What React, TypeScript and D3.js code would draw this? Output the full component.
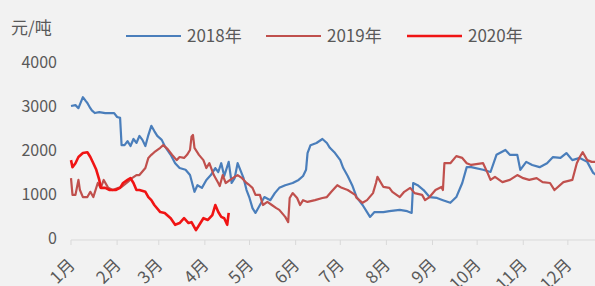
import React, { useEffect, useRef } from 'react';
import * as d3 from 'd3';

// day-of-year / price (元/吨) pairs
const days2018 = [0, 3, 5, 8, 10, 11, 13, 14, 16, 19, 23, 26, 29, 31, 33, 34, 36, 38, 40, 42, 44, 46, 48, 50, 52, 54, 56, 58, 61, 63, 67, 70, 73, 77, 80, 83, 85, 88, 91, 94, 97, 99, 101, 103, 106, 108, 110, 112, 116, 118, 120, 122, 124, 127, 130, 134, 137, 140, 144, 149, 153, 156, 158, 159, 161, 165, 169, 172, 174, 177, 181, 183, 186, 189, 192, 196, 199, 201, 204, 210, 214, 221, 226, 229, 230, 233, 237, 241, 246, 250, 255, 259, 263, 266, 269, 277, 282, 286, 292, 295, 300, 302, 306, 310, 315, 320, 324, 329, 333, 337, 342, 347, 351, 353];
const vals2018 = [3000, 3020, 2950, 3200, 3110, 3070, 2950, 2900, 2840, 2860, 2840, 2840, 2840, 2750, 2730, 2110, 2110, 2200, 2090, 2250, 2160, 2320, 2230, 2090, 2340, 2550, 2430, 2320, 2230, 2090, 1890, 1700, 1590, 1550, 1430, 1050, 1200, 1140, 1320, 1430, 1590, 1500, 1700, 1410, 1730, 1250, 1360, 1700, 1360, 1090, 910, 680, 570, 750, 930, 860, 1020, 1140, 1200, 1250, 1320, 1410, 1550, 1930, 2110, 2160, 2250, 2160, 2050, 1950, 1770, 1590, 1410, 1200, 930, 750, 590, 480, 590, 590, 610, 640, 610, 570, 1250, 1200, 1090, 930, 910, 860, 800, 930, 1250, 1610, 1610, 1550, 1500, 1890, 2000, 1890, 1890, 1550, 1730, 1660, 1610, 1700, 1840, 1820, 1930, 1770, 1820, 1730, 1480, 1430];

const days2019 = [0, 1, 3, 5, 6, 8, 11, 13, 15, 18, 20, 22, 25, 28, 32, 34, 38, 41, 44, 46, 50, 52, 54, 56, 60, 62, 65, 68, 71, 73, 76, 78, 80, 81, 82, 83, 86, 89, 91, 93, 96, 99, 100, 102, 104, 107, 110, 112, 115, 118, 120, 122, 124, 127, 129, 132, 135, 138, 140, 144, 146, 147, 149, 152, 154, 156, 159, 164, 169, 172, 175, 179, 182, 186, 191, 192, 196, 199, 203, 205, 206, 210, 214, 216, 221, 224, 228, 231, 236, 238, 241, 245, 249, 250, 251, 255, 259, 263, 266, 269, 277, 280, 282, 285, 290, 295, 300, 304, 308, 313, 317, 322, 325, 331, 337, 340, 342, 344, 347, 350, 353];
const vals2019 = [1360, 980, 980, 1320, 1090, 930, 930, 1050, 930, 1250, 1140, 1320, 1140, 1090, 1140, 1160, 1270, 1360, 1430, 1430, 1590, 1820, 1890, 1950, 2050, 2110, 2020, 1890, 1770, 1840, 1820, 1890, 2000, 2300, 2340, 2050, 1890, 1770, 1590, 1700, 1430, 1250, 1180, 1430, 1250, 1320, 1390, 1430, 1360, 1250, 1200, 1140, 980, 980, 750, 820, 750, 680, 640, 480, 360, 910, 1020, 910, 750, 860, 820, 860, 910, 930, 1050, 1200, 1140, 1090, 980, 910, 800, 860, 1020, 1250, 1390, 1160, 1140, 1050, 930, 1050, 1140, 1020, 980, 860, 930, 1090, 1160, 1090, 1700, 1700, 1860, 1820, 1700, 1660, 1700, 1480, 1320, 1390, 1270, 1320, 1430, 1360, 1320, 1360, 1270, 1250, 1090, 1270, 1320, 1700, 1840, 1950, 1770, 1730, 1730];

const days2020 = [0, 1, 3, 5, 8, 11, 13, 15, 17, 19, 20, 23, 26, 30, 33, 35, 38, 40, 42, 44, 46, 50, 52, 54, 56, 60, 63, 67, 70, 73, 76, 79, 81, 84, 87, 89, 92, 95, 97, 99, 101, 103, 105, 106];
const vals2020 = [1770, 1610, 1700, 1840, 1930, 1950, 1840, 1700, 1550, 1320, 1140, 1140, 1090, 1090, 1140, 1250, 1320, 1360, 1250, 1090, 1090, 1050, 930, 860, 750, 590, 570, 450, 300, 340, 450, 340, 360, 180, 340, 450, 410, 520, 750, 590, 480, 450, 300, 570];

const seriesNames = ['2018年', '2019年', '2020年'];
const seriesColors = ['#4a7ebb', '#c0504d', '#f01414'];
const monthLabels = ['1月', '2月', '3月', '4月', '5月', '6月', '7月', '8月', '9月', '10月', '11月', '12月'];
const monthStarts = [0, 31, 59, 90, 120, 151, 181, 212, 243, 273, 304, 334];
const yTicks = [0, 1000, 2000, 3000, 4000];

const W = 595, H = 286;
const FONT = '"Noto Sans CJK SC", "Noto Sans", sans-serif';
const TEXT = '#595959';

export default function App() {
  const ref = useRef<SVGSVGElement>(null);

  useEffect(() => {
    const svg = d3.select(ref.current);
    svg.selectAll('*').remove();

    const x = d3.scaleLinear().domain([0, 365]).range([71, 614]);
    const y = d3.scaleLinear().domain([0, 4000]).range([238, 62]);

    svg.append('rect').attr('width', W).attr('height', H).attr('fill', '#f2f2f2');

    // unit label
    svg.append('text')
      .attr('x', 11).attr('y', 34)
      .style('font-family', FONT).style('font-size', '17px')
      .attr('fill', TEXT)
      .text('元/吨');

    // y labels
    svg.selectAll('.ylab').data(yTicks).join('text')
      .attr('class', 'ylab')
      .attr('x', 57)
      .attr('y', d => y(d))
      .attr('dy', '0.35em')
      .attr('text-anchor', 'end')
      .style('font-family', FONT).style('font-size', '16px')
      .attr('fill', TEXT)
      .text(d => d);

    // x axis
    const xg = svg.append('g').attr('transform', `translate(0, ${y(0) + 2})`);
    xg.append('line').attr('x1', 71).attr('x2', W).attr('stroke', '#d9d9d9').attr('stroke-width', 1);
    xg.selectAll('.tick').data(monthStarts).join('line')
      .attr('class', 'tick')
      .attr('x1', d => x(d)).attr('x2', d => x(d))
      .attr('y1', 0).attr('y2', 5)
      .attr('stroke', '#d9d9d9');
    xg.selectAll('.xlab').data(monthStarts).join('text')
      .attr('class', 'xlab')
      .attr('text-anchor', 'end')
      .attr('transform', d => `translate(${x(d) + 5}, 26) rotate(-45)`)
      .style('font-family', FONT).style('font-size', '17px')
      .attr('fill', TEXT)
      .text((d, i) => monthLabels[i]);

    // lines
    const allDays = [days2018, days2019, days2020];
    const allVals = [vals2018, vals2019, vals2020];
    const line = d3.line<[number, number]>()
      .x(d => x(d[0]))
      .y(d => y(d[1]));

    allDays.forEach((days, k) => {
      const pts = days.map((d, i) => [d, allVals[k][i]] as [number, number]);
      svg.append('path')
        .datum(pts)
        .attr('d', line)
        .attr('fill', 'none')
        .attr('stroke', seriesColors[k])
        .attr('stroke-width', k === 2 ? 2.6 : 2.2)
        .attr('stroke-linejoin', 'round');
    });

    // legend
    const legX = [126, 266, 407];
    seriesNames.forEach((name, k) => {
      const g = svg.append('g').attr('transform', `translate(${legX[k]}, 36)`);
      g.append('line').attr('x1', 0).attr('x2', 55)
        .attr('stroke', seriesColors[k]).attr('stroke-width', k === 2 ? 2.6 : 2.2);
      g.append('text')
        .attr('x', 61).attr('dy', '0.35em')
        .style('font-family', FONT).style('font-size', '17px')
        .attr('fill', TEXT)
        .text(name);
    });
  }, []);

  return (
    <svg ref={ref} width={W} height={H} style={{ position: 'absolute', left: 0, top: 0 }} />
  );
}
